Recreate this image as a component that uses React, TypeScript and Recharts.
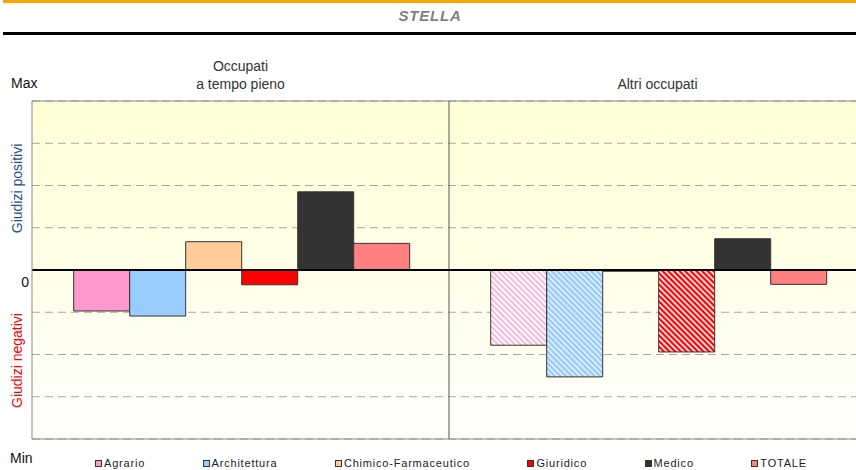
import React from "react";
import { BarChart, Bar, XAxis, YAxis, CartesianGrid, ReferenceLine, Legend, Cell } from "recharts";

// ---- data ----
const categories = ["Occupati\na tempo pieno", "Altri occupati"];
const seriesNames = ["Agrario", "Architettura", "Chimico-Farmaceutico", "Giuridico", "Medico", "TOTALE"];
const agrario = [-0.97, -1.78];
const architettura = [-1.09, -2.53];
const chimico = [0.67, -0.03];
const giuridico = [-0.35, -1.94];
const medico = [1.85, 0.74];
const totale = [0.63, -0.34];
const yTicks = [-4, -3, -2, -1, 0, 1, 2, 3, 4];
const yTickLabels: Record<string, string> = { "4": "Max", "0": "0", "-4": "Min" };
const sideLabels: Record<string, string> = { "2": "Giudizi positivi", "-2": "Giudizi negativi" };
const title = "STELLA";

const seriesValues = [agrario, architettura, chimico, giuridico, medico, totale];
const data = categories.map((cat, i) => {
  const row: Record<string, any> = { cat };
  seriesNames.forEach((n, k) => (row[n] = seriesValues[k][i]));
  return row;
});

// ---- styles ----
const FONT = "'Liberation Sans', Arial, sans-serif";
const solidColors = ["#FF99CC", "#99CCFF", "#FFCC99", "#FF0000", "#333333", "#FF8080"];
const secondFills = ["url(#hatchPink)", "url(#hatchBlue)", "#FFCC99", "url(#hatchRed)", "#333333", "#FF8080"];

function XTick(props: any) {
  const { x, y, payload } = props;
  const lines = String(payload.value).split("\n");
  const n = lines.length;
  return (
    <g>
      {lines.map((l, i) => (
        <text
          key={i}
          x={x}
          y={y - 12 - (n - 1 - i) * 18}
          textAnchor="middle"
          fontFamily={FONT}
          fontSize={14}
          fill="#333"
        >
          {l}
        </text>
      ))}
    </g>
  );
}

function YTick(props: any) {
  const { x, y, payload } = props;
  const key = String(payload.value);
  const lbl = yTickLabels[key];
  const side = sideLabels[key];
  if (lbl) {
    if (key === "4")
      return (
        <text x={x - 21} y={y - 13} fontFamily={FONT} fontSize={14} fill="#111">
          {lbl}
        </text>
      );
    if (key === "0")
      return (
        <text x={x - 3} y={y + 17} textAnchor="end" fontFamily={FONT} fontSize={14} fill="#111">
          {lbl}
        </text>
      );
    return (
      <text x={x - 22} y={y + 24} fontFamily={FONT} fontSize={14} fill="#111">
        {lbl}
      </text>
    );
  }
  if (side) {
    const pos = key === "2";
    const cx = x - 15;
    const cy = pos ? y + 3 : y + 6;
    return (
      <text
        x={cx}
        y={cy}
        transform={`rotate(-90, ${cx}, ${cy})`}
        textAnchor="middle"
        dominantBaseline="central"
        fontFamily={FONT}
        fontSize={14}
        fill={pos ? "#1F4E8C" : "#FF0000"}
      >
        {side}
      </text>
    );
  }
  return <g />;
}

function LegendContent() {
  return (
    <div
      style={{
        display: "flex",
        alignItems: "center",
        paddingLeft: 95,
        paddingTop: 18,
        fontFamily: FONT,
        fontSize: 11,
        letterSpacing: 0.8,
        color: "#222",
        whiteSpace: "nowrap",
      }}
    >
      {seriesNames.map((n, i) => (
        <div key={n} style={{ display: "flex", alignItems: "center", marginRight: 57.5 }}>
          <span
            style={{
              display: "inline-block",
              width: 5,
              height: 5,
              border: "1px solid #333",
              background: solidColors[i],
              marginRight: 2,
            }}
          />
          <span>{n}</span>
        </div>
      ))}
    </div>
  );
}

export default function App() {
  return (
    <div
      style={{
        position: "fixed",
        left: 0,
        top: 0,
        width: 856,
        height: 470,
        overflow: "hidden",
        background: "#fff",
      }}
    >
      <div style={{ position: "absolute", left: 3, top: 0, width: 853, height: 3, background: "#FFA500" }} />
      <div
        style={{
          position: "absolute",
          left: 0,
          top: 7,
          width: 856,
          textAlign: "center",
          fontFamily: FONT,
          fontSize: 15,
          fontWeight: "bold",
          fontStyle: "italic",
          letterSpacing: 0.8,
          color: "#7F7F7F",
          paddingLeft: 2,
        }}
      >
        {title}
      </div>
      <div style={{ position: "absolute", left: 3, top: 32, width: 853, height: 3, background: "#000" }} />
      <div style={{ position: "absolute", left: 0, top: 40 }}>
        <BarChart
          width={866}
          height={430}
          data={data}
          margin={{ top: 0, right: 0, bottom: 0, left: 0 }}
          barCategoryGap="10%"
          barGap={0}
        >
          <defs>
            <linearGradient id="bgGrad" x1="0" y1="0" x2="0" y2="1">
              <stop offset="0%" stopColor="#FFFFD6" />
              <stop offset="100%" stopColor="#FFFFFA" />
            </linearGradient>
            <pattern id="hatchPink" width="4" height="4" patternUnits="userSpaceOnUse" patternTransform="rotate(-45)">
              <rect width="4" height="4" fill="#FFFFFF" />
              <rect width="1.4" height="4" fill="#FF99CC" />
            </pattern>
            <pattern id="hatchBlue" width="4" height="4" patternUnits="userSpaceOnUse" patternTransform="rotate(-45)">
              <rect width="4" height="4" fill="#99CCFF" />
              <rect width="1.2" height="4" fill="#FFFFFF" />
            </pattern>
            <pattern id="hatchRed" width="4" height="4" patternUnits="userSpaceOnUse" patternTransform="rotate(-45)">
              <rect width="4" height="4" fill="#FFFFFF" />
              <rect width="2.3" height="4" fill="#FF0000" />
            </pattern>
          </defs>
          <CartesianGrid
            vertical={false}
            stroke="#A6A6A6"
            strokeDasharray="8 5"
            fill="url(#bgGrad)"
            fillOpacity={1}
          />
          <CartesianGrid
            horizontal={false}
            stroke="#555"
            verticalCoordinatesGenerator={(p: any) => {
              const s = p?.xAxis?.scale;
              if (s && typeof s === "function") {
                const v = s(categories[1]);
                if (typeof v === "number" && !isNaN(v)) return [v];
              }
              return [p.offset.left + p.offset.width / 2];
            }}
          />
          <XAxis
            dataKey="cat"
            orientation="top"
            height={61}
            tickLine={false}
            axisLine={false}
            tickSize={0}
            tickMargin={0}
            interval={0}
            tick={<XTick />}
          />
          <YAxis
            domain={[-4, 4]}
            ticks={yTicks}
            interval={0}
            width={32}
            tickLine={false}
            tickSize={0}
            tickMargin={0}
            axisLine={{ stroke: "#888" }}
            tick={<YTick />}
          />
          <Legend verticalAlign="bottom" height={31} content={<LegendContent />} />
          {seriesNames.map((n, k) => (
            <Bar key={n} dataKey={n} stroke="#333" strokeWidth={1} isAnimationActive={false}>
              {data.map((_, i) => (
                <Cell key={i} fill={i === 0 ? solidColors[k] : secondFills[k]} />
              ))}
            </Bar>
          ))}
          <ReferenceLine y={4} stroke="#888" />
          <ReferenceLine y={-4} stroke="#888" />
          <ReferenceLine y={0} stroke="#000" strokeWidth={2} />
        </BarChart>
      </div>
    </div>
  );
}
